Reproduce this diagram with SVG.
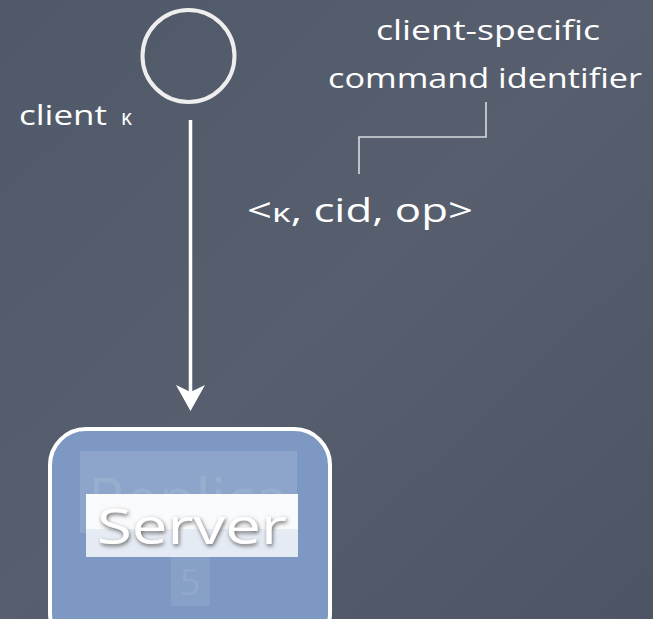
<svg xmlns="http://www.w3.org/2000/svg" width="653" height="619" viewBox="0 0 653 619">
<defs>
<linearGradient id="bg" x1="0" y1="0" x2="1" y2="1">
<stop offset="0" stop-color="#505969"/>
<stop offset="0.5" stop-color="#575f6e"/>
<stop offset="1" stop-color="#4d5565"/>
</linearGradient>
<linearGradient id="srv" x1="0" y1="0" x2="0" y2="1">
<stop offset="0" stop-color="#ffffff" stop-opacity="0.95"/>
<stop offset="0.55" stop-color="#ffffff" stop-opacity="0.95"/>
<stop offset="0.56" stop-color="#eef2f8" stop-opacity="0.92"/>
<stop offset="1" stop-color="#eef2f8" stop-opacity="0.92"/>
</linearGradient>
<filter id="sh" x="-10%" y="-20%" width="120%" height="140%">
<feGaussianBlur in="SourceAlpha" stdDeviation="2"/>
<feOffset dx="1" dy="2" result="b"/>
<feFlood flood-color="#666"/>
<feComposite in2="b" operator="in"/>
<feMerge><feMergeNode/><feMergeNode in="SourceGraphic"/></feMerge>
</filter>
</defs>
<style>
.lbl{font-family:"Open Sans","DejaVu Sans",sans-serif;fill:#ffffff}
.conn{stroke:#ffffff;fill:none}
.faint{font-family:"Open Sans","DejaVu Sans",sans-serif;fill:#ffffff;fill-opacity:0.1}
</style>
<rect width="653" height="619" fill="url(#bg)"/>
<g id="connectors">
<line class="conn" x1="190.5" y1="120" x2="190.5" y2="392" stroke-width="3.5"/>
<path d="M176,385 L190.5,392 L205,385 L190.5,411 Z" fill="#ffffff"/>
<polyline points="486,102 486,137 359,137 359,174" fill="none" stroke="#d8dbe0" stroke-width="1.6"/>
</g>
<g id="client">
<circle cx="188.5" cy="56" r="46" fill="none" stroke="#eeeeee" stroke-width="4"/>
<text class="lbl" x="19" y="125" font-size="27" textLength="88" lengthAdjust="spacingAndGlyphs">client</text>
<text class="lbl" x="121" y="125" font-size="21">κ</text>
</g>
<g id="note">
<text class="lbl" x="488" y="40" font-size="27" text-anchor="middle" textLength="224" lengthAdjust="spacingAndGlyphs">client-specific</text>
<text class="lbl" x="485" y="88" font-size="27" text-anchor="middle" textLength="314" lengthAdjust="spacingAndGlyphs">command identifier</text>
</g>
<g id="message">
<text class="lbl" x="247" y="222" font-size="32" textLength="226" lengthAdjust="spacingAndGlyphs">&lt;<tspan font-size="26">κ</tspan>, cid, op&gt;</text>
</g>
<g id="server">
<rect x="50" y="429" width="280" height="220" rx="36" fill="#7c98c3" stroke="#ffffff" stroke-width="4"/>
<rect x="80" y="451" width="217" height="82" fill="#ffffff" fill-opacity="0.13"/>
<text class="faint" x="188" y="520" font-size="58" text-anchor="middle" textLength="200" lengthAdjust="spacingAndGlyphs">Replica</text>
<rect x="171" y="555" width="39" height="51" fill="#ffffff" fill-opacity="0.08"/>
<text class="faint" x="190" y="595" font-size="36" text-anchor="middle">5</text>
<rect x="86" y="494" width="212" height="63" fill="url(#srv)"/>
<text x="192" y="544" font-family="Open Sans, DejaVu Sans, sans-serif" font-size="50" text-anchor="middle" fill="#ffffff" filter="url(#sh)" textLength="190" lengthAdjust="spacingAndGlyphs">Server</text>
</g>
</svg>
